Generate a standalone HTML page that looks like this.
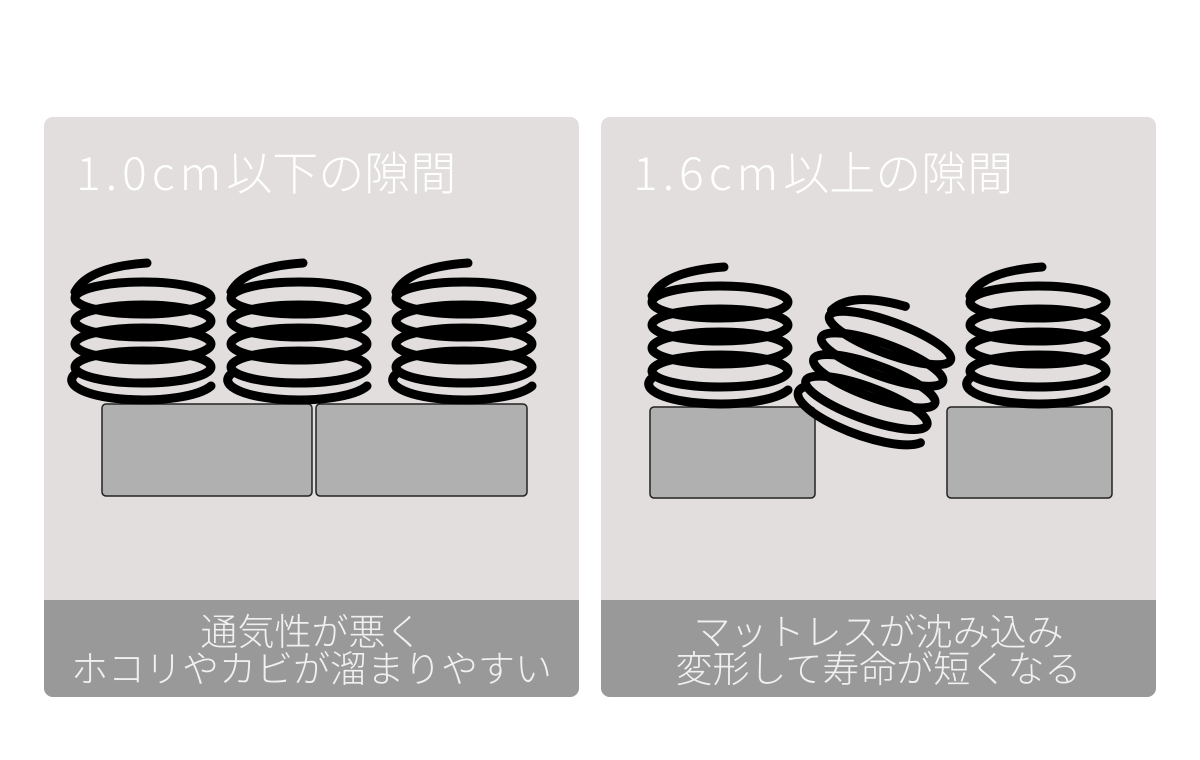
<!DOCTYPE html>
<html><head><meta charset="utf-8"><style>
body{margin:0;width:1200px;height:760px;background:#fff;overflow:hidden;font-family:"Noto Sans CJK JP","Liberation Sans",sans-serif}
.p{position:absolute;top:117px;width:535px;height:580px;background:#e1dedd;border-radius:9px;overflow:hidden}
.t{position:absolute;left:32px;color:#fff;font-size:46px;font-weight:300;line-height:1;white-space:nowrap}
.t span{letter-spacing:5px}
.b{position:absolute;left:0;right:0;bottom:0;height:97px;background:#999;color:#f0f0f0;font-size:37px;font-weight:300;text-align:center;line-height:37px;padding-top:11px;box-sizing:border-box}
svg{position:absolute;left:0;top:0}
</style></head><body>
<div class="p" style="left:44px"><div class="t" style="top:31px"><span>1.0cm</span>以下の隙間</div><div class="b">通気性が悪く<br>ホコリやカビが溜まりやすい</div></div>
<div class="p" style="left:601px;width:555px"><div class="t" style="top:31px"><span>1.6cm</span>以上の隙間</div><div class="b">マットレスが沈み込み<br>変形して寿命が短くなる</div></div>
<svg width="1200" height="760">
<defs>
<g id="s" fill="none" stroke="#000" stroke-width="9" stroke-linecap="round">
<path d="M4 -35 Q-55 -31 -68 -6"/>
<ellipse cx="0" cy="0" rx="68" ry="16"/>
<ellipse cx="0" cy="23" rx="68" ry="16"/>
<ellipse cx="0" cy="46" rx="68" ry="16"/>
<ellipse cx="0" cy="69" rx="68" ry="16"/>
<path d="M-68 76 A68 19 0 0 0 68 88"/>
</g>
</defs>
<g fill="#b0b0b0" stroke="#222" stroke-width="1.5">
<rect x="102" y="404" width="210" height="92" rx="4"/>
<rect x="316" y="404" width="211" height="92" rx="4"/>
<rect x="650" y="407" width="165" height="91" rx="4"/>
<rect x="947" y="407" width="165" height="91" rx="4"/>
</g>
<use href="#s" transform="translate(143,298)"/>
<use href="#s" transform="translate(299,298)"/>
<use href="#s" transform="translate(464,298)"/>
<use href="#s" transform="translate(720,302)"/>
<use href="#s" transform="translate(1038,302)"/>
<use href="#s" transform="translate(890,338) rotate(20) scale(0.95,1)"/>
</svg>
</body></html>
